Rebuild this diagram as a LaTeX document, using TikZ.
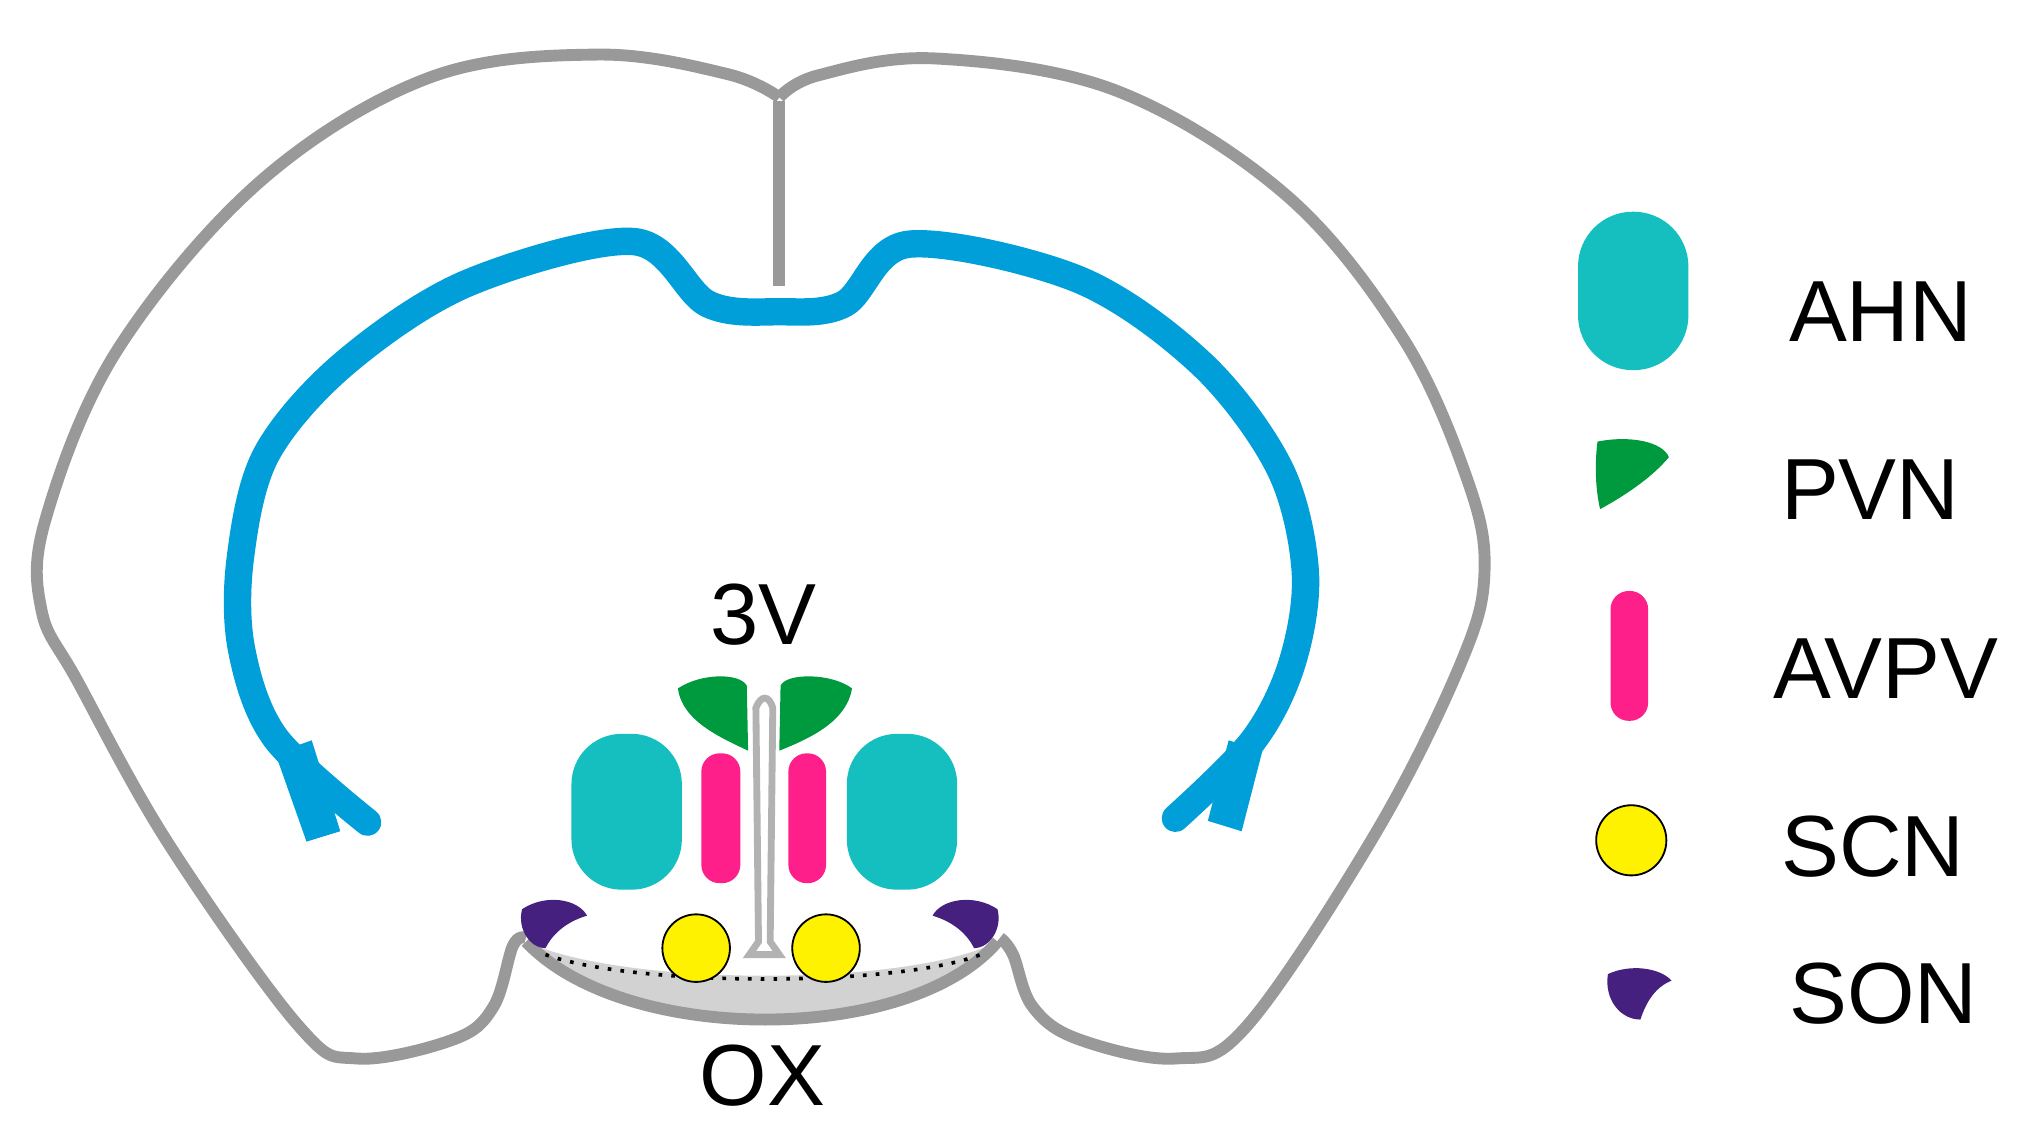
\documentclass[tikz,border=0pt]{standalone}
\usepackage{fontspec}
\setmainfont{Liberation Sans}
\definecolor{teal1}{HTML}{16BFBF}
\definecolor{grn}{HTML}{009A3E}
\definecolor{pnk}{HTML}{FF1F8A}
\definecolor{yel}{HTML}{FFF200}
\definecolor{pur}{HTML}{45207F}
\definecolor{blu}{HTML}{009FDA}
\definecolor{gry}{HTML}{999999}
\begin{document}
\begin{tikzpicture}[x=0.01cm,y=-0.01cm,
 lab/.style={font=\fontsize{19}{21}\selectfont,anchor=center},
 outline/.style={draw=gry,line width=2.6pt,line join=round}]
\useasboundingbox (0,0) rectangle (1563,875);
% outer brain
\draw[outline] plot[smooth,tension=0.6] coordinates{(600,75)(560,57)(460,42)(330,60)(200,140)(90,270)(35,400)(32,470)(60,525)(130,650)(230,790)(275,815)(350,800)(380,775)(395,728)(405,722)};
\draw[outline] plot[smooth,tension=0.6] coordinates{(600,75)(630,58)(720,45)(860,70)(990,150)(1080,260)(1130,370)(1143,440)(1125,510)(1060,640)(960,790)(905,815)(830,800)(795,775)(780,735)(770,722)};
\draw[gry,line width=2.6pt] (600,78) -- (600,220);
% corpus callosum
\draw[blu,line width=6pt,line cap=round,line join=round] plot[smooth,tension=0.55] coordinates{(283,633)(212,568)(186,500)(185,430)(205,350)(265,280)(360,218)(488,186)(545,234)(600,240)(650,234)(700,188)(830,215)(925,280)(985,360)(1005,440)(995,510)(965,570)(905,630)};
\fill[blu] (212,580) -- (240,570) -- (262,640) -- (236,648) -- cycle;
\fill[blu] (972,578) -- (946,570) -- (930,632) -- (956,640) -- cycle;
% OX
\fill[gray!35] (405,725) .. controls (480,805) and (700,805) .. (768,725) .. controls (700,760) and (480,760) .. cycle;
\draw[outline] (405,725) .. controls (480,805) and (700,805) .. (768,725);
\draw[dotted,thick] (420,735) .. controls (490,760) and (690,760) .. (755,735);
% SON
\fill[pur] (402,700) .. controls (420,688) and (445,692) .. (452,705) .. controls (435,710) and (425,720) .. (420,730) .. controls (408,730) and (398,715) .. cycle;
\fill[pur] (768,700) .. controls (750,688) and (725,692) .. (718,705) .. controls (735,710) and (745,720) .. (750,730) .. controls (762,730) and (772,715) .. cycle;
% third ventricle
\draw[gray!60,line width=1.5pt,fill=white] (582,545) .. controls (586,535) and (592,535) .. (595,545) -- (593,725) -- (600,735) -- (577,735) -- (584,725) -- cycle;
% AHN
\fill[teal1,rounded corners=11pt] (440,565) rectangle (525,685);
\fill[teal1,rounded corners=11pt] (652,565) rectangle (737,685);
% AVPV
\fill[pnk,rounded corners=4pt] (540,580) rectangle (570,680);
\fill[pnk,rounded corners=4pt] (607,580) rectangle (636,680);
% PVN
\fill[grn] (522,530) .. controls (540,518) and (570,518) .. (575,528) -- (576,578) .. controls (555,568) and (525,555) .. cycle;
\fill[grn] (656,530) .. controls (640,518) and (605,518) .. (601,528) -- (600,578) .. controls (625,568) and (652,555) .. cycle;
% SCN
\node[circle,draw,fill=yel,minimum size=0.52cm,inner sep=0] (scn1) at (536,730) {};
\node[circle,draw,fill=yel,minimum size=0.52cm,inner sep=0] (scn2) at (636,730) {};
\node[lab] (v3) at (588,473) {3V};
\node[lab] (ox) at (587,828) {OX};
% legend
\fill[teal1,rounded corners=12pt] (1215,163) rectangle (1300,285);
\fill[grn] (1230,340) .. controls (1255,335) and (1280,340) .. (1285,352) .. controls (1270,370) and (1245,385) .. (1232,392) .. controls (1228,375) and (1228,355) .. cycle;
\fill[pnk,rounded corners=4pt] (1240,455) rectangle (1269,555);
\node[circle,draw,fill=yel,minimum size=0.54cm,inner sep=0] (lscn) at (1256,647) {};
\fill[pur] (1238,750) .. controls (1255,742) and (1278,745) .. (1287,755) .. controls (1275,760) and (1268,770) .. (1263,785) .. controls (1248,785) and (1235,770) .. cycle;
\node[lab] (l1) at (1448,240) {AHN};
\node[lab] (l2) at (1440,377) {PVN};
\node[lab] (l3) at (1452,515) {AVPV};
\node[lab] (l4) at (1442,652) {SCN};
\node[lab] (l5) at (1450,765) {SON};
\end{tikzpicture}
\end{document}
